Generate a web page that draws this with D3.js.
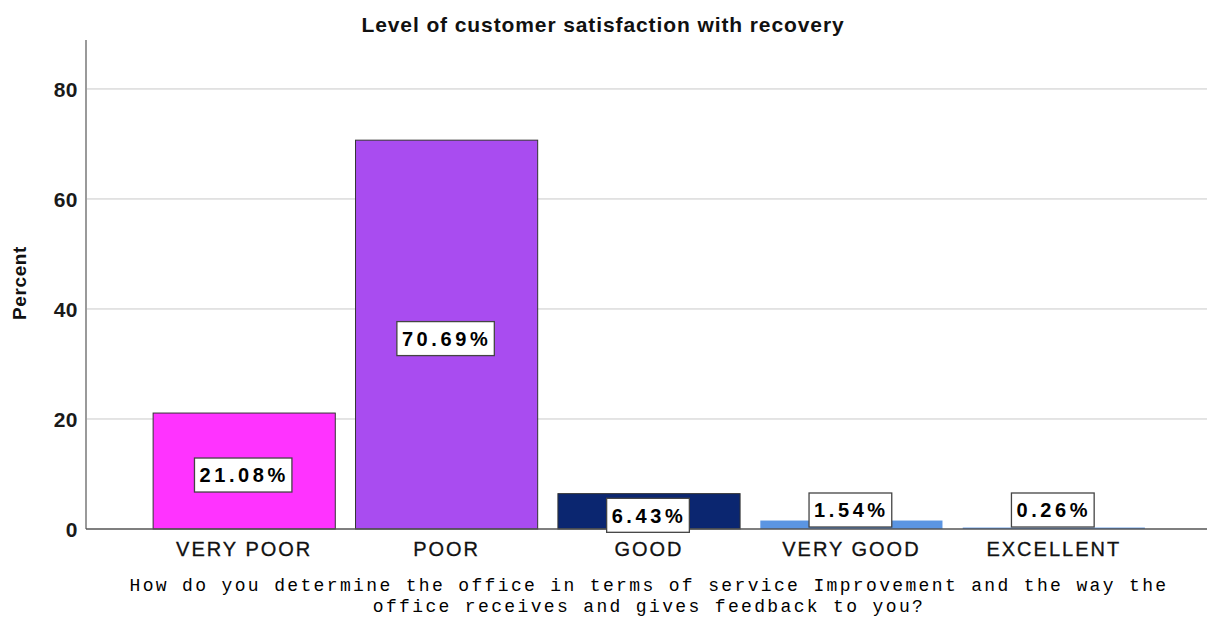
<!DOCTYPE html>
<html>
<head>
<meta charset="utf-8">
<script src="https://cdn.jsdelivr.net/npm/d3@7"></script>
<style>
  html, body { margin: 0; padding: 0; background: #fff; }
  svg { display: block; }
</style>
</head>
<body>
<svg id="chart" width="1207" height="618"></svg>
<script>
// Response categories and their share of respondents (percent)
const categories = ["VERY POOR", "POOR", "GOOD", "VERY GOOD", "EXCELLENT"];
const percents = [21.08, 70.69, 6.43, 1.54, 0.26];
const barColors = ["#ff33ff", "#a94cf0", "#0b2670", "#5b95e2", "#5b95e2"];
const yTicks = [0, 20, 40, 60, 80];

const titleText = "Level of customer satisfaction with recovery";
const yTitle = "Percent";
const xTitleLines = [
  "How do you determine the office in terms of service Improvement and the way the",
  "office receives and gives feedback to you?"
];

const svg = d3.select("#chart");
const plot = { left: 86, right: 1207, top: 40, bottom: 529 };
const sans = "Liberation Sans, Arial, sans-serif";

const x = d3.scaleBand()
  .domain(categories)
  .range([143, 1155])
  .paddingInner(0.1)
  .paddingOuter(0.05);

const y = d3.scaleLinear()
  .domain([0, 88.9])
  .range([plot.bottom, plot.top]);

// Horizontal gridlines
svg.append("g")
  .selectAll("line")
  .data(yTicks.filter(t => t > 0))
  .join("line")
  .attr("x1", plot.left).attr("x2", plot.right)
  .attr("y1", d => y(d)).attr("y2", d => y(d))
  .attr("stroke", "#c9c9c9").attr("stroke-width", 1);

// Y axis with tick labels
const yAxis = d3.axisLeft(y).tickValues(yTicks).tickSize(0).tickPadding(8);
const gy = svg.append("g")
  .attr("transform", `translate(${plot.left},0)`)
  .call(yAxis);
gy.select(".domain").remove();
gy.selectAll("text")
  .attr("font-family", sans)
  .attr("font-size", 21)
  .attr("font-weight", "bold")
  .attr("letter-spacing", "0.5px")
  .attr("fill", "#1a1a1a")
  .attr("dy", "0.36em");
svg.append("line")
  .attr("x1", plot.left).attr("x2", plot.left)
  .attr("y1", plot.top).attr("y2", plot.bottom)
  .attr("stroke", "#9a9a9a").attr("stroke-width", 2);

// Bars
svg.append("g")
  .selectAll("rect")
  .data(categories)
  .join("rect")
  .attr("x", d => x(d))
  .attr("width", x.bandwidth())
  .attr("y", (d, i) => y(percents[i]))
  .attr("height", (d, i) => y(0) - y(percents[i]))
  .attr("fill", (d, i) => barColors[i])
  .attr("stroke", (d, i) => percents[i] > 3 ? "#333" : "none")
  .attr("stroke-width", 1);

// Baseline
svg.append("line")
  .attr("x1", plot.left).attr("x2", plot.right)
  .attr("y1", y(0)).attr("y2", y(0))
  .attr("stroke", "#555").attr("stroke-width", 1.3);

// X axis category labels
const gx = svg.append("g")
  .attr("transform", `translate(0,${y(0)})`)
  .call(d3.axisBottom(x).tickSize(0).tickPadding(13));
gx.select(".domain").remove();
gx.selectAll("text")
  .attr("font-family", sans)
  .attr("font-size", 20)
  .attr("fill", "#111")
  .attr("stroke", "#111")
  .attr("stroke-width", 0.3)
  .attr("letter-spacing", "2px")
  .attr("dy", "0.71em");

// Value labels in boxes
const boxH = 34;
const labels = svg.append("g")
  .selectAll("g")
  .data(categories)
  .join("g")
  .attr("transform", (d, i) => {
    const barH = y(0) - y(percents[i]);
    const cy = barH >= boxH ? y(percents[i] / 2) + 4 : y(0) - boxH / 2 - 2;
    return `translate(${x(d) + x.bandwidth() / 2},${cy})`;
  });
labels.append("text")
  .attr("text-anchor", "middle")
  .attr("dy", "0.36em")
  .attr("font-family", sans)
  .attr("font-size", 20)
  .attr("font-weight", "bold")
  .attr("letter-spacing", "3.6px")
  .attr("fill", "#000")
  .text((d, i) => percents[i].toFixed(2) + "%");
labels.each(function () {
  const g = d3.select(this);
  const bb = g.select("text").node().getBBox();
  const w = bb.width + 6;
  g.insert("rect", "text")
    .attr("x", -w / 2 - 2)
    .attr("y", -boxH / 2)
    .attr("width", w + 2)
    .attr("height", boxH)
    .attr("fill", "#fff")
    .attr("stroke", "#444")
    .attr("stroke-width", 1.3);
});

// Title
svg.append("text")
  .attr("x", 603).attr("y", 32)
  .attr("text-anchor", "middle")
  .attr("font-family", sans)
  .attr("font-size", 21)
  .attr("font-weight", "bold")
  .attr("letter-spacing", "0.9px")
  .attr("fill", "#111")
  .text(titleText);

// Y axis title
svg.append("text")
  .attr("transform", `translate(26,283) rotate(-90)`)
  .attr("text-anchor", "middle")
  .attr("font-family", sans)
  .attr("font-size", 19)
  .attr("font-weight", "bold")
  .attr("letter-spacing", "0.6px")
  .attr("fill", "#111")
  .text(yTitle);

// X axis title (two centred lines)
svg.append("g")
  .selectAll("text")
  .data(xTitleLines)
  .join("text")
  .attr("x", 649)
  .attr("y", (d, i) => 591 + i * 21)
  .attr("text-anchor", "middle")
  .attr("font-family", "Liberation Mono, monospace")
  .attr("font-size", 18)
  .attr("letter-spacing", "2.35px")
  .attr("fill", "#000")
  .text(d => d);
</script>
</body>
</html>
